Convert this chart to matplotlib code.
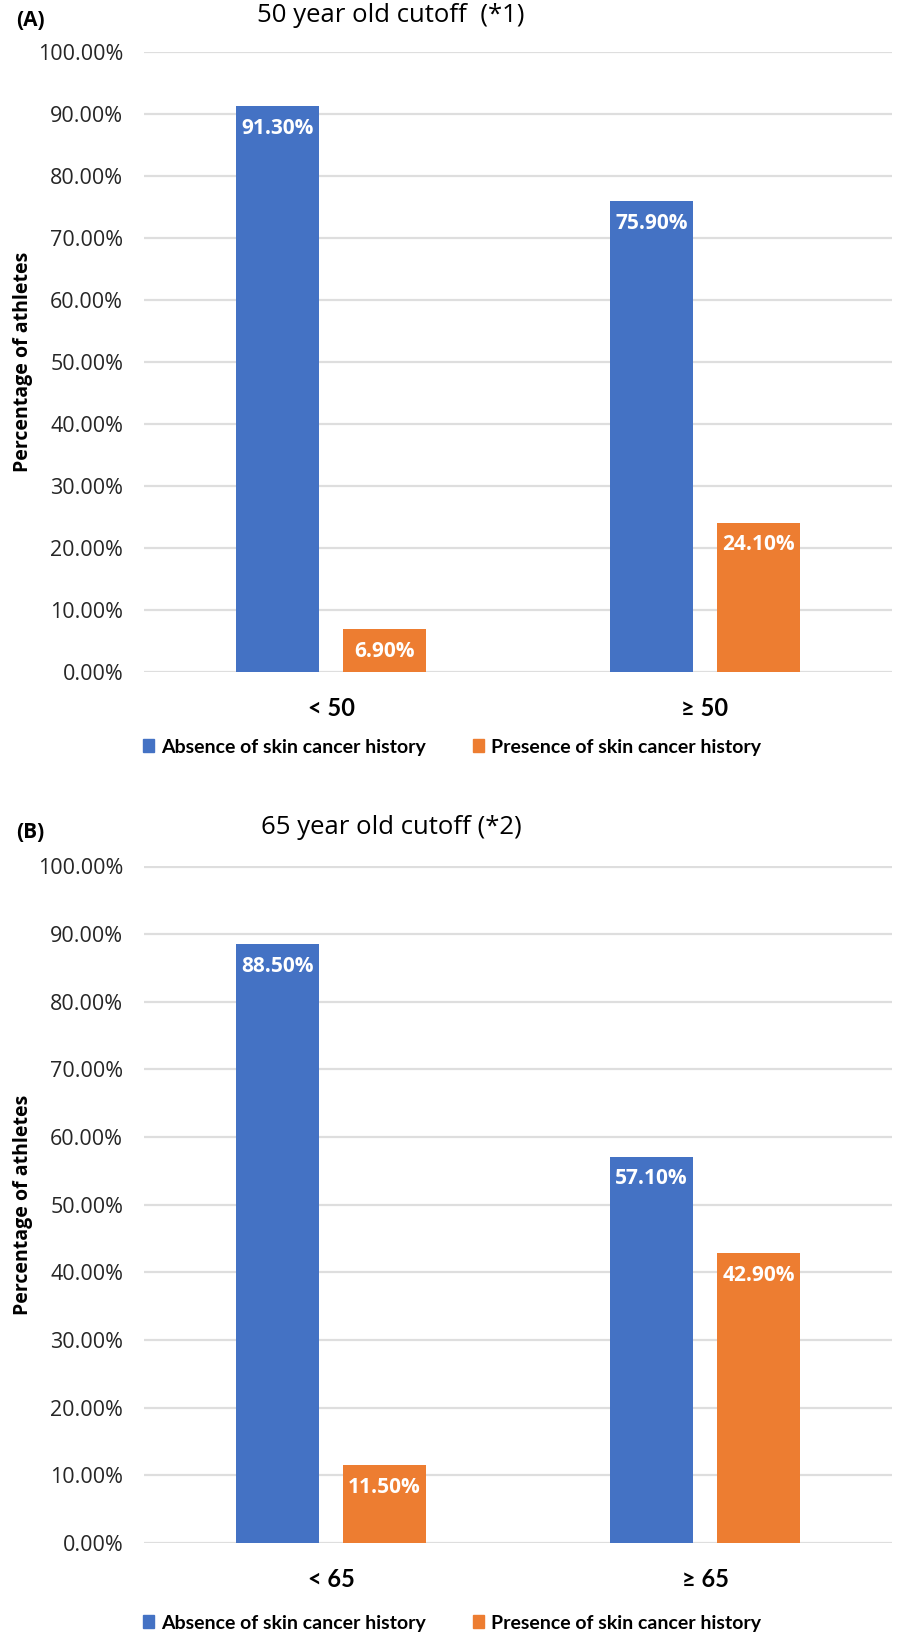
import numpy as np
import matplotlib.pyplot as plt
import matplotlib.transforms as mtransforms
from matplotlib.patches import Rectangle

plt.rcParams['font.family'] = ['Open Sans', 'DejaVu Sans']

# panel (A): 50 year cutoff, panel (B): 65 year cutoff
groups_a = ['< 50', '≥ 50']
absent_a = [91.3, 75.9]
present_a = [6.9, 24.1]

groups_b = ['< 65', '≥ 65']
absent_b = [88.5, 57.1]
present_b = [11.5, 42.9]

titles = ['50 year old cutoff  (*1)', '65 year old cutoff (*2)']
tags = ['(A)', '(B)']
series_names = ['Absence of skin cancer history', 'Presence of skin cancer history']
yticks = np.arange(0, 101, 10)

BLUE = '#4472C4'
ORANGE = '#ED7D31'
GRID = '#DEDEDE'
TEXT = '#262626'

W, H = 901, 1636
fig = plt.figure(figsize=(W / 100, H / 100), dpi=100)


def px_axes(left, top, right, bottom):
    return fig.add_axes([left / W, 1 - bottom / H, (right - left) / W, (bottom - top) / H])


def draw_panel(ax, cats, absent, present, title, tag, title_y, legend_y):
    x = np.arange(len(cats))
    width = 0.224
    off = 0.143
    b1 = ax.bar(x - off, absent, width, color=BLUE, zorder=3)
    b2 = ax.bar(x + off, present, width, color=ORANGE, zorder=3)
    for bars, vals in ((b1, absent), (b2, present)):
        for rect, v in zip(bars, vals):
            ax.annotate(f'{v:.2f}%', (rect.get_x() + rect.get_width() / 2, v),
                        xytext=(0, -16), textcoords='offset points',
                        ha='center', va='center', color='white',
                        fontsize=15, fontweight='bold', zorder=4)
    ax.set_xlim(-0.5, len(cats) - 0.5)
    ax.set_ylim(0, 100)
    ax.set_yticks(yticks)
    ax.set_yticklabels([f'{t:.2f}%' for t in yticks], fontsize=15.5, color=TEXT)
    ax.set_xticks(x)
    ax.set_xticklabels(cats, fontsize=17, fontweight='bold', family=['Lato', 'DejaVu Sans'], color='black')
    ax.tick_params(axis='both', length=0)
    ax.tick_params(axis='y', pad=15)
    ax.tick_params(axis='x', pad=18)
    ax.grid(axis='y', color=GRID, linewidth=1.6, zorder=0)
    for s in ax.spines.values():
        s.set_visible(False)
    ax.axhline(0, color=GRID, linewidth=1.8, zorder=2)
    ax.set_ylabel('Percentage of athletes', fontsize=14, fontweight='bold', color='black')
    ax.yaxis.set_label_coords(33 / W, 0.5,
                              transform=mtransforms.blended_transform_factory(fig.transFigure, ax.transAxes))

    fig.text(391 / W, 1 - title_y / H, title, ha='center', va='center', fontsize=18.5, color='black')
    fig.text(16 / W, 1 - (title_y + 5) / H, tag, ha='left', va='center', fontsize=15,
             fontweight='bold', color='black')

    handles = [Rectangle((0, 0), 1, 1, color=BLUE), Rectangle((0, 0), 1, 1, color=ORANGE)]
    fig.legend(handles, series_names, loc='center', bbox_to_anchor=(452 / W, 1 - legend_y / H),
               ncol=2, frameon=False, handlelength=0.6, handleheight=0.6, handletextpad=0.35,
               columnspacing=2.4, prop={'family': ['Lato', 'DejaVu Sans'], 'weight': 'bold', 'size': 14})


ax_a = px_axes(144, 52, 892, 672)
draw_panel(ax_a, groups_a, absent_a, present_a, titles[0], tags[0], 16, 747)

ax_b = px_axes(144, 866.5, 892, 1543)
draw_panel(ax_b, groups_b, absent_b, present_b, titles[1], tags[1], 828, 1623)

fig.savefig('out.png', dpi=100)
